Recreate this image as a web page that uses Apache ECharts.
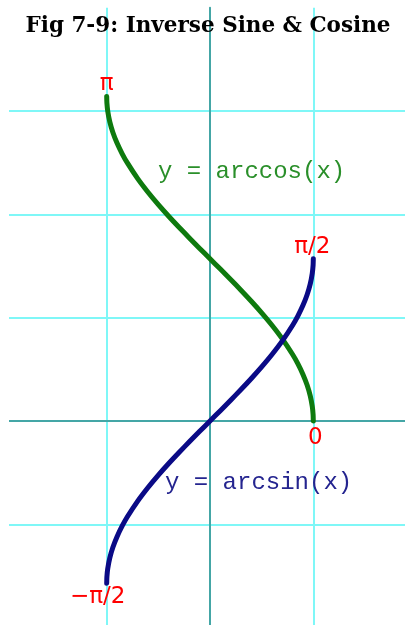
<!DOCTYPE html>
<html>
<head>
<meta charset="utf-8">
<script src="https://cdn.jsdelivr.net/npm/echarts@6/dist/echarts.min.js"></script>
<style>
  html, body { margin: 0; padding: 0; background: #ffffff; }
  #chart { width: 405px; height: 625px; }
</style>
</head>
<body>
<div id="chart"></div>
<script>
// Sample points of the two inverse trig curves on [-1, 1]
const xs = [-1, -0.998, -0.99, -0.97, -0.94, -0.9, -0.85, -0.8, -0.7, -0.6, -0.5, -0.4, -0.3, -0.2, -0.1, 0,
            0.1, 0.2, 0.3, 0.4, 0.5, 0.6, 0.7, 0.8, 0.85, 0.9, 0.94, 0.97, 0.99, 0.998, 1];

const arcsinVals = [-1.5708, -1.5075, -1.4293, -1.3252, -1.2226, -1.1198, -1.0160, -0.9273, -0.7754, -0.6435,
                    -0.5236, -0.4115, -0.3047, -0.2014, -0.1002, 0,
                    0.1002, 0.2014, 0.3047, 0.4115, 0.5236, 0.6435, 0.7754, 0.9273, 1.0160, 1.1198,
                    1.2226, 1.3252, 1.4293, 1.5075, 1.5708];

const arccosVals = [3.1416, 3.0783, 3.0001, 2.8960, 2.7934, 2.6906, 2.5868, 2.4981, 2.3462, 2.2143,
                    2.0944, 1.9823, 1.8755, 1.7722, 1.6710, 1.5708,
                    1.4706, 1.3694, 1.2661, 1.1593, 1.0472, 0.9273, 0.7954, 0.6435, 0.5548, 0.4510,
                    0.3482, 0.2456, 0.1415, 0.0633, 0];

// End-point value labels (first point, last point)
const arcsinEndLabels = ['\u2212\u03c0/2', '\u03c0/2'];
const arccosEndLabels = ['\u03c0', '0'];

const titleText = 'Fig 7-9: Inverse Sine & Cosine';
const arccosName = 'y = arccos(x)';
const arcsinName = 'y = arcsin(x)';

const gridColor = '#7ff7f7';
const axisColor = '#44a6a6';
const valueLabel = { color: '#ff0000', fontFamily: 'DejaVu Sans', fontSize: 23 };

function buildData(ys, labelFirst, labelLast) {
  const last = xs.length - 1;
  return xs.map(function (x, i) {
    const item = { value: [x, ys[i]] };
    if (i === 0 && labelFirst) item.label = Object.assign({ show: true }, valueLabel, labelFirst);
    if (i === last && labelLast) item.label = Object.assign({ show: true }, valueLabel, labelLast);
    return item;
  });
}

const chart = echarts.init(document.getElementById('chart'), null, { renderer: 'canvas' });

chart.setOption({
  backgroundColor: '#ffffff',
  animation: false,
  // the plotting area runs a little past the right and bottom edges of the canvas
  grid: { left: 3.4, top: 7.8, width: 413.2, height: 619.8, containLabel: false, outerBoundsMode: 'none' },
  xAxis: {
    type: 'value', min: -2, max: 2, interval: 1,
    axisLabel: { show: false }, axisTick: { show: false },
    axisLine: { show: true, onZero: true, lineStyle: { color: axisColor, width: 2 } },
    splitLine: { show: true, showMinLine: false, showMaxLine: false, lineStyle: { color: gridColor, width: 2 } }
  },
  yAxis: {
    type: 'value', min: -2, max: 4, interval: 1,
    axisLabel: { show: false }, axisTick: { show: false },
    axisLine: { show: true, onZero: true, lineStyle: { color: axisColor, width: 2 } },
    splitLine: { show: true, showMinLine: false, showMaxLine: false, lineStyle: { color: gridColor, width: 2 } }
  },
  graphic: [
    { type: 'rect', left: 0, top: 0, z: 1, shape: { width: 9, height: 625 }, style: { fill: '#ffffff' }, silent: true },
    { type: 'text', z: 5, x: 208, y: 26, silent: true,
      style: { text: titleText, fill: '#000000', font: 'bold 21.5px "DejaVu Serif"', align: 'center', verticalAlign: 'middle' } },
    { type: 'text', z: 5, x: 158, y: 172, silent: true,
      style: { text: arccosName, fill: '#2a8f2a', font: '24px "Liberation Mono"', align: 'left', verticalAlign: 'middle' } },
    { type: 'text', z: 5, x: 165, y: 483, silent: true,
      style: { text: arcsinName, fill: '#24248f', font: '24px "Liberation Mono"', align: 'left', verticalAlign: 'middle' } }
  ],
  series: [
    {
      name: 'arccos', type: 'line', silent: true,
      symbol: 'circle', symbolSize: 0, showSymbol: true,
      smooth: 0.2,
      lineStyle: { color: '#0e7a0e', width: 5, cap: 'round', join: 'round' },
      itemStyle: { color: '#0e7a0e' },
      emphasis: { disabled: true },
      label: { show: false },
      data: buildData(arccosVals,
        { formatter: arccosEndLabels[0], position: 'top', distance: 1 },
        { formatter: arccosEndLabels[1], position: 'bottom', distance: 6, offset: [2, 0] })
    },
    {
      name: 'arcsin', type: 'line', silent: true,
      symbol: 'circle', symbolSize: 0, showSymbol: true,
      smooth: 0.2,
      lineStyle: { color: '#0a0a86', width: 5, cap: 'round', join: 'round' },
      itemStyle: { color: '#0a0a86' },
      emphasis: { disabled: true },
      label: { show: false },
      data: buildData(arcsinVals,
        { formatter: arcsinEndLabels[0], position: 'bottom', distance: 2, offset: [-9, 0] },
        { formatter: arcsinEndLabels[1], position: 'top', distance: 0, offset: [-1, 0] })
    }
  ]
});
</script>
</body>
</html>
